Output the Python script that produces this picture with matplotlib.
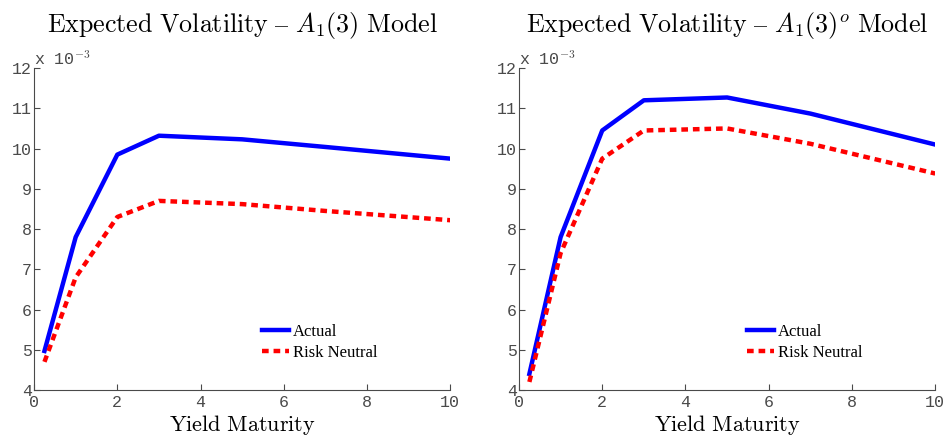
import numpy as np
import matplotlib.pyplot as plt

plt.rcParams['mathtext.fontset'] = 'cm'

maturity = [0.25, 1, 2, 3, 5, 7, 10]

# left panel: A1(3)
a13_actual = [4.97, 7.80, 9.85, 10.32, 10.23, 10.04, 9.75]
a13_rn = [4.70, 6.80, 8.30, 8.70, 8.62, 8.45, 8.22]

# right panel: A1(3)^o
a13o_actual = [4.40, 7.80, 10.45, 11.20, 11.27, 10.87, 10.10]
a13o_rn = [4.20, 7.40, 9.75, 10.45, 10.50, 10.12, 9.38]

titles = [r'$\mathrm{Expected\ Volatility\ –\ }A_1(3)\ \mathrm{Model}$',
          r'$\mathrm{Expected\ Volatility\ –\ }A_1(3)^o\ \mathrm{Model}$']
xticks = [0, 2, 4, 6, 8, 10]
yticks = [4, 5, 6, 7, 8, 9, 10, 11, 12]

fig = plt.figure(figsize=(9.46, 4.44), dpi=100)
boxes = [[0.036, 0.1216, 0.44, 0.725], [0.5486, 0.1216, 0.44, 0.725]]
panels = [(a13_actual, a13_rn), (a13o_actual, a13o_rn)]

tick_col = '#4a4a4a'
for box, (act, rn), title in zip(boxes, panels, titles):
    ax = fig.add_axes(box)
    ax.plot(maturity, np.array(act) * 1e-3, color='#0000ff', lw=3.2, label='Actual')
    ax.plot(maturity, np.array(rn) * 1e-3, color='#ff0000', lw=3.2,
            linestyle=(0, (1.5, 1.1)), label='Risk Neutral')
    ax.set_xlim(0, 10)
    ax.set_ylim(4e-3, 12e-3)
    ax.set_xticks(xticks)
    ax.set_xticklabels([str(t) for t in xticks])
    ax.set_yticks([t * 1e-3 for t in yticks])
    ax.set_yticklabels([str(t) for t in yticks])
    for s in ['top', 'right']:
        ax.spines[s].set_visible(False)
    for s in ['left', 'bottom']:
        ax.spines[s].set_color(tick_col)
        ax.spines[s].set_linewidth(0.8)
    ax.tick_params(direction='in', length=4, width=0.8, colors=tick_col,
                   labelsize=12)
    ax.tick_params(axis='y', pad=1.5)
    ax.tick_params(axis='x', pad=3.5)
    for lab in ax.get_xticklabels() + ax.get_yticklabels():
        lab.set_family('Liberation Mono')
    ax.text(0.0, 1.0, r'x 10$^{-3}$', transform=ax.transAxes, ha='left', va='bottom',
            fontsize=12, color=tick_col, family='Liberation Mono')
    ax.set_title(title, fontsize=18.7, pad=26)
    ax.set_xlabel(r'$\mathrm{Yield\ Maturity}$', fontsize=16, labelpad=2)
    ax.legend(loc='lower left', bbox_to_anchor=(0.532, 0.07), frameon=False,
              prop={'family': 'Liberation Serif', 'size': 12},
              handlelength=1.6, handletextpad=0.25, labelspacing=0.3, borderaxespad=0)

fig.savefig('out.png', dpi=100)
